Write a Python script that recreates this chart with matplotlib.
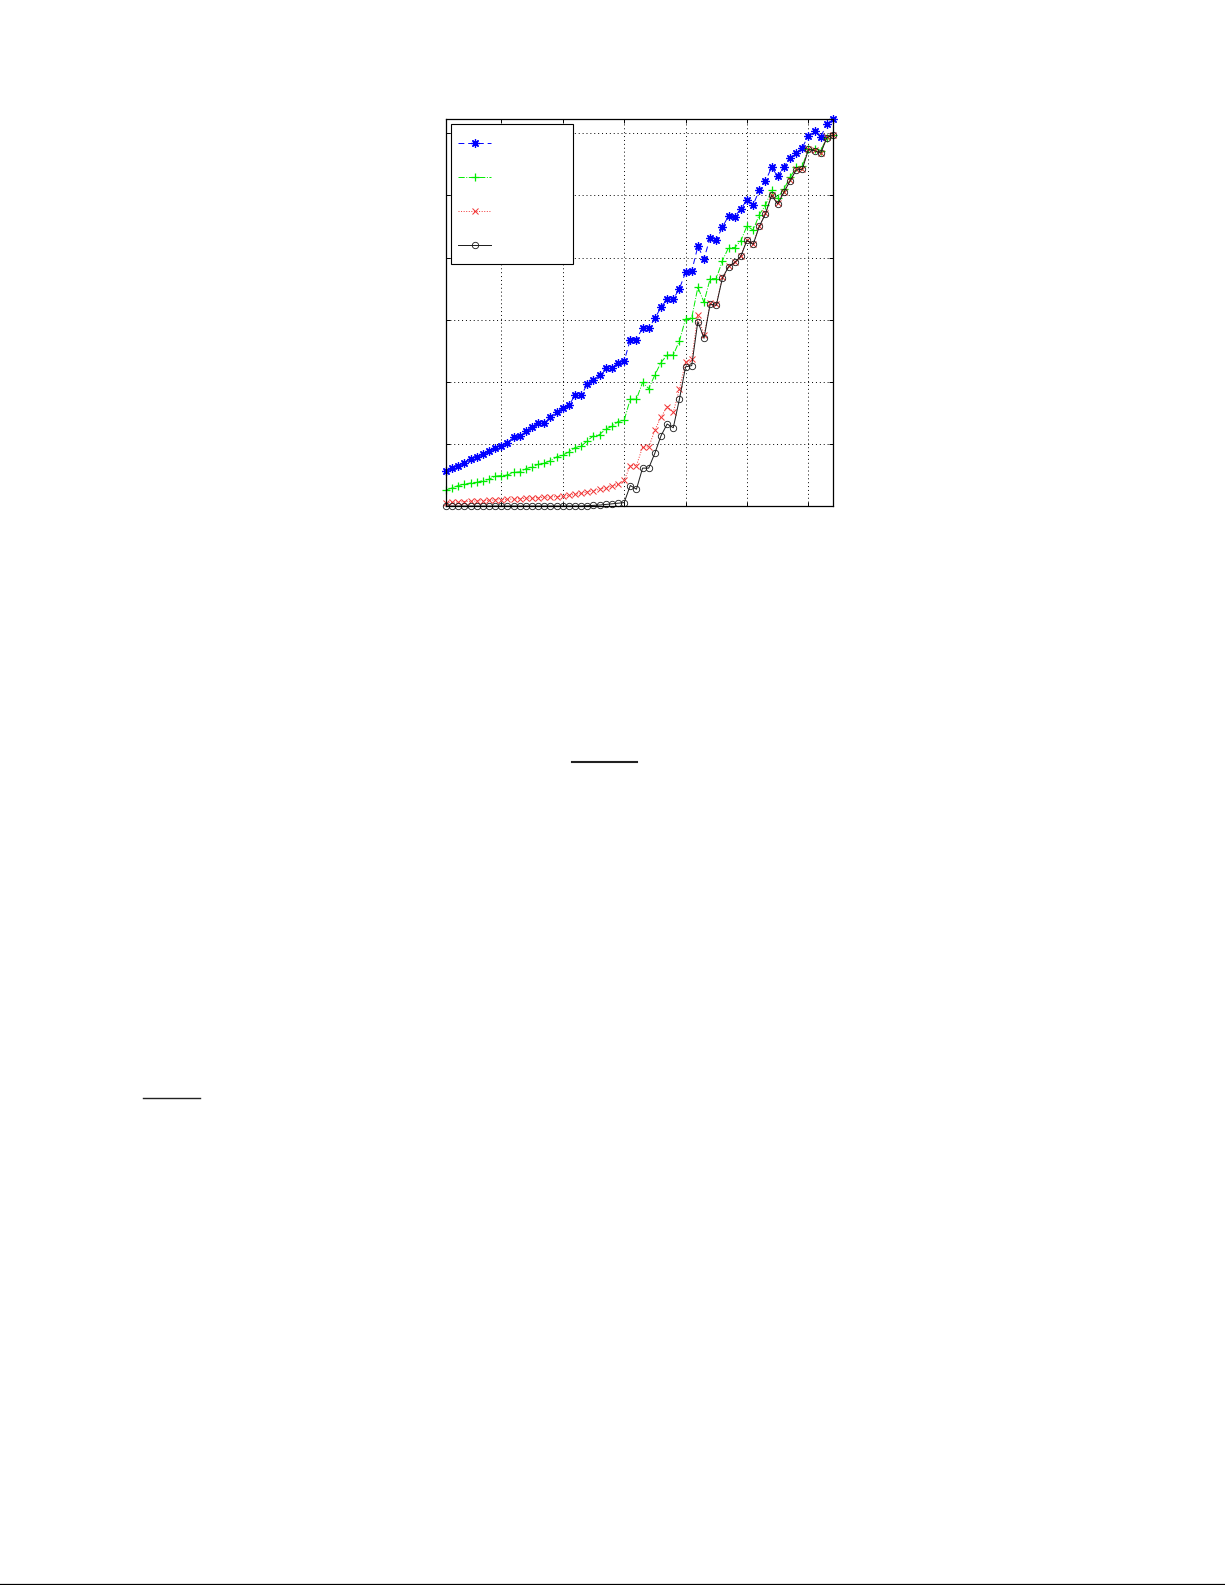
import matplotlib
matplotlib.use("Agg")
import matplotlib.pyplot as plt
from matplotlib.lines import Line2D
import numpy as np

# ---- data ----
x = list(range(1, 65))

series_blue = [0.57, 0.61, 0.65, 0.70, 0.76, 0.79, 0.83, 0.88, 0.94, 0.96,
               1.02, 1.11, 1.12, 1.20, 1.27, 1.33, 1.33, 1.44, 1.51, 1.57,
               1.62, 1.78, 1.78, 1.96, 2.03, 2.11, 2.22, 2.22, 2.31, 2.33,
               2.68, 2.68, 2.87, 2.86, 3.02, 3.20, 3.33, 3.33, 3.50, 3.76,
               3.78, 4.18, 3.98, 4.32, 4.28, 4.49, 4.67, 4.66, 4.78, 4.93,
               4.85, 5.08, 5.23, 5.45, 5.31, 5.45, 5.61, 5.68, 5.77, 5.96,
               6.03, 5.94, 6.15, 6.23]

series_green = [0.26, 0.29, 0.33, 0.35, 0.37, 0.38, 0.41, 0.43, 0.48, 0.49,
                0.50, 0.54, 0.55, 0.60, 0.63, 0.67, 0.69, 0.73, 0.79, 0.82,
                0.87, 0.94, 0.96, 1.05, 1.13, 1.15, 1.24, 1.28, 1.36, 1.38,
                1.72, 1.72, 1.99, 1.89, 2.11, 2.31, 2.43, 2.43, 2.66, 3.01,
                3.03, 3.52, 3.28, 3.66, 3.66, 3.95, 4.16, 4.16, 4.27, 4.51,
                4.44, 4.69, 4.84, 5.08, 4.96, 5.10, 5.29, 5.45, 5.47, 5.75,
                5.75, 5.72, 5.93, 5.97]

series_red = [0.054, 0.059, 0.064, 0.070, 0.075, 0.080, 0.086, 0.091, 0.097, 0.102,
              0.107, 0.113, 0.118, 0.123, 0.129, 0.134, 0.139, 0.145, 0.150, 0.156,
              0.172, 0.188, 0.204, 0.225, 0.247, 0.268, 0.290, 0.317, 0.349, 0.413,
              0.65, 0.65, 0.95, 0.95, 1.22, 1.43, 1.60, 1.51, 1.88, 2.32,
              2.36, 3.07, 2.75, 3.26, 3.25, 3.68, 3.86, 3.92, 4.03, 4.29,
              4.22, 4.51, 4.71, 5.01, 4.87, 5.06, 5.24, 5.42, 5.43, 5.75,
              5.73, 5.69, 5.94, 5.98]

series_black = [0.0, 0.0, 0.0, 0.0, 0.0, 0.0, 0.0, 0.0, 0.0, 0.0,
                0.0, 0.0, 0.0, 0.0, 0.0, 0.0, 0.0, 0.0, 0.0, 0.0,
                0.0, 0.0, 0.0, 0.005, 0.01, 0.015, 0.025, 0.035, 0.045, 0.055,
                0.33, 0.27, 0.61, 0.61, 0.85, 1.13, 1.32, 1.26, 1.72, 2.24,
                2.26, 2.97, 2.70, 3.25, 3.23, 3.67, 3.85, 3.92, 4.02, 4.28,
                4.21, 4.50, 4.70, 5.00, 4.86, 5.05, 5.23, 5.41, 5.42, 5.74,
                5.72, 5.68, 5.93, 5.97]

x_ticks = [10, 20, 30, 40, 50, 60]
y_ticks = [0, 1, 2, 3, 4, 5, 6]

# ---- figure ----
W, H = 1225, 1585
fig = plt.figure(figsize=(W / 100, H / 100), dpi=100)
fig.patch.set_facecolor("white")

L, R, T, B = 446, 833, 119, 506
ax = fig.add_axes([L / W, 1 - B / H, (R - L) / W, (B - T) / H])

lw = 0.7
asterisk = (8, 2, 0)
h_blue, = ax.plot(x, series_blue, linestyle=(0, (6, 4)), color=(0, 0, 1), lw=lw,
                  marker=asterisk, markersize=6, markeredgewidth=0.9, clip_on=False)
h_green, = ax.plot(x, series_green, linestyle="-.", color=(0, 0.92, 0), lw=lw,
                   marker="+", markersize=6, markeredgewidth=0.9, clip_on=False)
h_red, = ax.plot(x, series_red, linestyle=":", color=(0.95, 0.2, 0.2), lw=lw,
                 marker="x", markersize=4.2, markeredgewidth=0.7, clip_on=False)
h_black, = ax.plot(x, series_black, linestyle="-", color=(0.1, 0.1, 0.1), lw=lw,
                   marker="o", markersize=4.6, markerfacecolor="none",
                   markeredgewidth=0.6, clip_on=False)

ax.set_xlim(1, 64)
ax.set_ylim(0, 6.23)
ax.set_xticks(x_ticks)
ax.set_yticks(y_ticks)
ax.set_xticklabels([])
ax.set_yticklabels([])
ax.tick_params(direction="in", length=3, width=0.7, top=True, right=True)
ax.grid(True, linestyle=(0, (1, 3)), color="black", linewidth=0.7)
for s in ax.spines.values():
    s.set_linewidth(0.9)
    s.set_color("black")

# legend (no label text in the reference)
fs = 24.7
leg = ax.legend([h_blue, h_green, h_red, h_black], ["", "", "", ""],
                loc="upper left", fontsize=fs, borderpad=0.204,
                handlelength=0.962, handletextpad=2.19, labelspacing=0.29,
                handleheight=0.7, borderaxespad=0.146, fancybox=False,
                framealpha=1, edgecolor="black")
leg.get_frame().set_linewidth(0.8)
for t in leg.get_texts():
    t.set_fontsize(1)

# page rules
fig.add_artist(Line2D([572 / W, 637 / W], [1 - 762 / H, 1 - 762 / H],
                      color="#222222", lw=1.5))
fig.add_artist(Line2D([143 / W, 200 / W], [1 - 1098 / H, 1 - 1098 / H],
                      color="#222222", lw=1.0))
fig.add_artist(Line2D([0, 1], [1 - 1584 / H, 1 - 1584 / H],
                      color="black", lw=0.9))

fig.savefig("out.png", dpi=100, facecolor="white")
